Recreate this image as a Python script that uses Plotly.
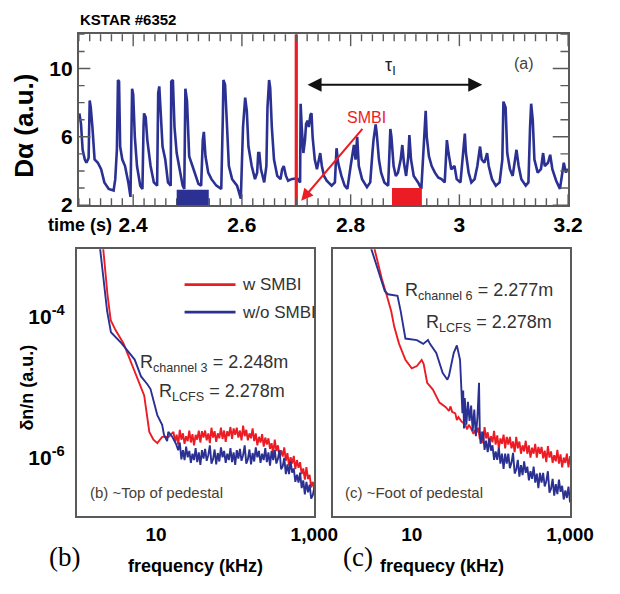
import numpy as np
import plotly.graph_objects as go

# ---------------------------------------------------------------- data
# (a) D-alpha emission, KSTAR shot 6352
t_da = [
    2.301, 2.304, 2.307, 2.311, 2.314, 2.318, 2.320, 2.322, 2.325, 2.329, 2.335, 2.341, 2.347, 2.355,
    2.364, 2.367, 2.370, 2.372, 2.374, 2.376, 2.380, 2.385, 2.391, 2.395, 2.398, 2.400, 2.403, 2.407,
    2.413, 2.417, 2.419, 2.420, 2.423, 2.426, 2.432, 2.438, 2.444, 2.446, 2.448, 2.451, 2.454, 2.459,
    2.464, 2.469, 2.470, 2.473, 2.476, 2.480, 2.485, 2.491, 2.494, 2.496, 2.499, 2.503, 2.509, 2.515,
    2.520, 2.525, 2.528, 2.530, 2.533, 2.538, 2.544, 2.553, 2.562, 2.565, 2.566, 2.569, 2.572, 2.576,
    2.582, 2.591, 2.598, 2.602, 2.606, 2.609, 2.612, 2.618, 2.624, 2.628, 2.630, 2.632, 2.635, 2.641,
    2.645, 2.647, 2.650, 2.652, 2.655, 2.659, 2.665, 2.671, 2.674, 2.677, 2.681, 2.685, 2.691, 2.697,
    2.700, 2.703, 2.707, 2.708, 2.710, 2.713, 2.716, 2.718, 2.721, 2.723, 2.726, 2.728, 2.730, 2.734,
    2.738, 2.742, 2.744, 2.747, 2.751, 2.756, 2.765, 2.771, 2.774, 2.777, 2.783, 2.789, 2.794, 2.800,
    2.803, 2.806, 2.809, 2.812, 2.815, 2.821, 2.830, 2.836, 2.840, 2.842, 2.846, 2.848, 2.852, 2.856,
    2.862, 2.869, 2.873, 2.875, 2.879, 2.883, 2.887, 2.892, 2.895, 2.898, 2.902, 2.906, 2.908, 2.911,
    2.916, 2.924, 2.930, 2.936, 2.938, 2.940, 2.944, 2.949, 2.955, 2.961, 2.967, 2.973, 2.977, 2.980,
    2.985, 2.991, 2.995, 3.002, 3.007, 3.010, 3.012, 3.017, 3.022, 3.028, 3.033, 3.038, 3.041, 3.046,
    3.051, 3.054, 3.060, 3.067, 3.074, 3.079, 3.081, 3.085, 3.088, 3.093, 3.098, 3.103, 3.105, 3.109,
    3.114, 3.122, 3.127, 3.130, 3.132, 3.135, 3.138, 3.144, 3.150, 3.154, 3.157, 3.163, 3.167, 3.171,
    3.178, 3.185, 3.189, 3.192, 3.196, 3.198, 3.200,
]
d_alpha = [
    7.37, 6.76, 5.24, 4.67, 4.48, 4.76, 8.13, 7.71, 6.57, 4.67, 4.48, 4.10, 3.33, 2.95,
    2.86, 3.52, 5.24, 9.33, 9.24, 5.43, 4.67, 4.29, 3.33, 2.48, 8.82, 8.48, 6.00, 4.29,
    3.14, 2.95, 6.57, 7.37, 7.14, 5.81, 4.29, 3.33, 3.14, 8.57, 8.95, 7.33, 5.43, 4.67,
    3.33, 3.14, 9.24, 9.33, 6.57, 5.05, 4.10, 3.14, 2.95, 8.82, 8.10, 4.86, 4.29, 3.71,
    3.24, 3.14, 5.81, 6.29, 4.86, 3.90, 3.52, 3.14, 2.95, 7.33, 9.33, 9.05, 6.57, 4.29,
    3.52, 3.14, 2.38, 6.57, 8.29, 7.52, 5.43, 4.29, 3.52, 3.90, 5.05, 5.05, 4.10, 3.33,
    4.29, 7.71, 9.33, 8.86, 6.57, 4.67, 3.71, 3.52, 4.10, 4.29, 3.71, 3.43, 3.52, 3.56,
    3.52, 3.52, 3.33, 7.94, 6.57, 5.05, 5.81, 6.76, 6.95, 6.57, 7.29, 7.37, 6.00, 4.67,
    4.10, 4.67, 5.05, 4.29, 3.71, 3.43, 3.14, 3.33, 5.33, 4.48, 3.71, 3.14, 2.95, 4.29,
    5.05, 5.52, 4.67, 6.00, 4.29, 3.52, 3.05, 3.33, 5.05, 5.81, 6.72, 6.19, 4.67, 3.90,
    3.33, 3.14, 6.46, 6.00, 4.29, 3.71, 3.90, 4.67, 5.52, 4.48, 3.71, 4.86, 6.10, 4.67,
    3.71, 3.33, 2.95, 6.19, 7.52, 6.00, 4.86, 4.29, 3.90, 3.62, 3.52, 3.33, 5.81, 5.05,
    4.10, 4.29, 3.52, 3.33, 5.05, 6.19, 5.05, 3.90, 3.33, 3.52, 4.29, 5.43, 4.67, 4.48,
    5.05, 4.29, 3.52, 3.14, 3.33, 4.67, 8.06, 7.71, 5.05, 4.10, 3.71, 4.86, 5.24, 4.29,
    3.52, 3.14, 3.33, 6.57, 7.94, 6.95, 4.67, 3.90, 4.10, 5.05, 4.29, 4.48, 4.95, 4.10,
    3.43, 2.95, 3.71, 4.48, 3.90, 4.10, 4.00,
]
smbi_time = 2.70                 # start of supersonic molecular beam injection
window_wo_smbi = [2.480, 2.539]  # time window of the w/o SMBI spectrum
window_w_smbi = [2.876, 2.931]   # time window of the w SMBI spectrum
window_top = [2.9, 3.0]          # bar heights of the two windows (a.u.)
tau_span = [2.718, 3.042]        # tau_I interval
time_range = [2.3, 3.2]
da_range = [2, 12]
time_ticks = [2.4, 2.6, 2.8, 3.0, 3.2]
time_labels = ["2.4", "2.6", "2.8", "3", "3.2"]
da_ticks = [2, 6, 10]
spec_ticks_log = [-4, -6]        # decades marked on the fluctuation axes

# (b) channel 3, ~top of pedestal: log10 f[kHz], log10 dn/n
b_red_lf = [0.31, 0.386, 0.427, 0.488, 0.589, 0.69, 0.79, 0.85, 0.915, 0.967, 1.016, 1.077, 1.16, 1.20,
            1.22, 1.24, 1.26, 1.28, 1.30, 1.32, 1.34, 1.36, 1.38, 1.40, 1.42, 1.44, 1.46, 1.48, 1.50,
            1.52, 1.54, 1.56, 1.58, 1.60, 1.62, 1.64, 1.66, 1.68, 1.70, 1.72, 1.74, 1.76, 1.78, 1.80,
            1.82, 1.84, 1.86, 1.88, 1.90, 1.92, 1.94, 1.96, 1.98, 2.00, 2.02, 2.04, 2.06, 2.08, 2.10,
            2.12, 2.14, 2.16, 2.18, 2.20, 2.22, 2.24, 2.26, 2.28, 2.30, 2.32, 2.34, 2.36, 2.38, 2.40,
            2.42, 2.44, 2.46, 2.48, 2.50, 2.52, 2.54, 2.56, 2.58, 2.60, 2.62, 2.64, 2.66, 2.68, 2.70,
            2.72, 2.74, 2.76, 2.78, 2.80, 2.82, 2.84, 2.86, 2.88, 2.90, 2.92, 2.94, 2.96, 2.98, 3.00]
b_red_lv = [-2.76, -3.68, -4.05, -4.19, -4.38, -4.66, -4.94, -5.12, -5.64, -5.75, -5.80, -5.71, -5.71, -5.66,
            -5.64, -5.78, -5.68, -5.82, -5.61, -5.75, -5.66, -5.81, -5.70, -5.77, -5.62, -5.79, -5.67, -5.83, -5.68,
            -5.75, -5.62, -5.79, -5.63, -5.72, -5.62, -5.76, -5.66, -5.80, -5.58, -5.72, -5.63, -5.78, -5.66, -5.73,
            -5.58, -5.74, -5.62, -5.78, -5.63, -5.70, -5.57, -5.74, -5.59, -5.68, -5.58, -5.72, -5.62, -5.76, -5.55,
            -5.70, -5.61, -5.76, -5.66, -5.73, -5.59, -5.77, -5.66, -5.83, -5.71, -5.79, -5.67, -5.85, -5.72, -5.82,
            -5.73, -5.88, -5.80, -5.95, -5.75, -5.91, -5.83, -6.00, -5.90, -5.99, -5.86, -6.05, -5.94, -6.12, -6.00,
            -6.09, -5.98, -6.17, -6.04, -6.15, -6.07, -6.24, -6.16, -6.32, -6.14, -6.31, -6.25, -6.43, -6.35, -6.45]
b_blue_lf = [0.27, 0.341, 0.382, 0.43, 0.565, 0.73, 0.81, 0.89, 0.93, 1.016, 1.077, 1.10, 1.14, 1.155, 1.20,
             1.256, 1.28, 1.30, 1.32, 1.34, 1.36, 1.38, 1.40, 1.42, 1.44, 1.46, 1.48, 1.50, 1.52, 1.54,
             1.56, 1.58, 1.60, 1.62, 1.64, 1.66, 1.68, 1.70, 1.72, 1.74, 1.76, 1.78, 1.80, 1.82, 1.84,
             1.86, 1.88, 1.90, 1.92, 1.94, 1.96, 1.98, 2.00, 2.02, 2.04, 2.06, 2.08, 2.10, 2.12, 2.14,
             2.16, 2.18, 2.20, 2.22, 2.24, 2.26, 2.28, 2.30, 2.32, 2.34, 2.36, 2.38, 2.40, 2.42, 2.44,
             2.46, 2.48, 2.50, 2.52, 2.54, 2.56, 2.58, 2.60, 2.62, 2.64, 2.66, 2.68, 2.70, 2.72, 2.74,
             2.76, 2.78, 2.80, 2.82, 2.84, 2.86, 2.88, 2.90, 2.92, 2.94, 2.96, 2.98, 3.00]
b_blue_lv = [-2.80, -3.54, -3.92, -4.22, -4.38, -4.61, -4.85, -4.96, -5.03, -5.40, -5.54, -5.68, -5.77, -5.64, -5.70,
             -5.82, -5.90, -5.79, -6.03, -5.90, -6.04, -5.85, -6.00, -5.91, -6.08, -5.95, -6.04, -5.87, -6.07, -5.93,
             -6.11, -5.90, -6.02, -5.88, -6.05, -5.97, -5.83, -6.09, -6.03, -5.89, -6.10, -5.94, -6.06, -5.86, -6.00,
             -5.91, -6.08, -5.95, -6.04, -5.87, -6.07, -5.93, -6.11, -5.90, -6.02, -5.88, -6.05, -5.97, -5.83, -6.09,
             -6.03, -5.89, -6.10, -5.94, -6.06, -5.86, -6.00, -5.91, -6.08, -5.95, -6.04, -5.87, -6.07, -5.93, -6.12,
             -5.91, -6.04, -5.90, -6.09, -6.02, -5.90, -6.17, -6.13, -6.01, -6.24, -6.10, -6.24, -6.06, -6.22, -6.16,
             -6.35, -6.25, -6.36, -6.22, -6.44, -6.33, -6.53, -6.35, -6.50, -6.39, -6.59, -6.54, -6.43]

# (c) channel 6, ~foot of pedestal
c_red_lf = [0.50, 0.62, 0.68, 0.74, 0.78, 0.84, 0.92, 1.00, 1.065, 1.125, 1.15, 1.195, 1.267, 1.35, 1.43,
            1.47, 1.49, 1.51, 1.55, 1.57, 1.59, 1.63, 1.67, 1.70, 1.72, 1.75, 1.78, 1.80, 1.82,
            1.84, 1.86, 1.88, 1.90, 1.92, 1.94, 1.96, 1.98, 2.00, 2.02, 2.04, 2.06, 2.08, 2.10, 2.12,
            2.14, 2.16, 2.18, 2.20, 2.22, 2.24, 2.26, 2.28, 2.30, 2.32, 2.34, 2.36, 2.38, 2.40, 2.42,
            2.44, 2.46, 2.48, 2.50, 2.52, 2.54, 2.56, 2.58, 2.60, 2.62, 2.64, 2.66, 2.68, 2.70, 2.72,
            2.74, 2.76, 2.78, 2.80, 2.82, 2.84, 2.86, 2.88, 2.90, 2.92, 2.94, 2.96, 2.98, 3.00]
c_red_lv = [-2.87, -3.38, -3.59, -3.81, -4.02, -4.24, -4.45, -4.56, -4.53, -4.45, -4.50, -4.75, -4.84, -5.01, -5.07,
            -5.12, -5.06, -5.13, -5.15, -5.24, -5.20, -5.26, -5.29, -5.36, -5.30, -5.35, -5.42, -5.37, -5.40,
            -5.34, -5.49, -5.39, -5.54, -5.33, -5.48, -5.40, -5.55, -5.45, -5.53, -5.38, -5.56, -5.44, -5.61, -5.48,
            -5.55, -5.43, -5.61, -5.46, -5.56, -5.46, -5.61, -5.52, -5.66, -5.46, -5.61, -5.52, -5.68, -5.57, -5.65,
            -5.51, -5.68, -5.57, -5.73, -5.60, -5.68, -5.55, -5.73, -5.59, -5.68, -5.59, -5.74, -5.64, -5.79, -5.58,
            -5.73, -5.65, -5.80, -5.70, -5.78, -5.63, -5.81, -5.69, -5.86, -5.73, -5.80, -5.68, -5.86, -5.71]
c_blue_lf = [0.45, 0.58, 0.66, 0.70, 0.82, 0.86, 0.92, 1.065, 1.145, 1.205, 1.23, 1.31, 1.39, 1.45, 1.47,
             1.49, 1.53, 1.57, 1.61, 1.63, 1.64, 1.65, 1.66, 1.67, 1.69, 1.71, 1.73, 1.75, 1.77, 1.79,
             1.81, 1.83, 1.85, 1.86, 1.87,
             1.88, 1.90, 1.92, 1.94, 1.96, 1.98, 2.00, 2.02, 2.04, 2.06, 2.08, 2.10, 2.12, 2.14, 2.16,
             2.18, 2.20, 2.22, 2.24, 2.26, 2.28, 2.30, 2.32, 2.34, 2.36, 2.38, 2.40, 2.42, 2.44, 2.46,
             2.48, 2.50, 2.52, 2.54, 2.56, 2.58, 2.60, 2.62, 2.64, 2.66, 2.68, 2.70, 2.72, 2.74, 2.76,
             2.78, 2.80, 2.82, 2.84, 2.86, 2.88, 2.90, 2.92, 2.94, 2.96, 2.98, 3.00]
c_blue_lv = [-2.87, -3.29, -3.55, -3.59, -3.61, -3.81, -4.17, -4.19, -4.24, -4.19, -4.24, -4.36, -4.62, -4.71, -4.66,
             -4.56, -4.36, -4.26, -4.45, -4.90, -5.15, -4.85, -5.35, -4.95, -5.30, -5.00, -5.25, -5.05, -5.38, -5.10,
             -5.45, -5.20, -4.75, -5.40, -5.55,
             -5.50, -5.39, -5.63, -5.51, -5.66, -5.48, -5.64, -5.57, -5.76, -5.65, -5.76, -5.60, -5.81, -5.68, -5.88,
             -5.68, -5.81, -5.68, -5.87, -5.80, -5.67, -5.94, -5.89, -5.76, -5.98, -5.83, -5.96, -5.78, -5.93, -5.85,
             -6.03, -5.91, -6.01, -5.85, -6.06, -5.94, -6.13, -5.93, -6.06, -5.93, -6.11, -6.04, -5.91, -6.19, -6.14,
             -6.01, -6.23, -6.08, -6.21, -6.02, -6.18, -6.10, -6.28, -6.16, -6.26, -6.11, -6.32]

# ---------------------------------------------------------------- style
W, H = 620, 594
SANS = "Liberation Sans, Arial, Helvetica, sans-serif"
SERIF = "Liberation Serif, Times New Roman, serif"
BLUE = "#2b3192"
RED = "#ec1c24"
FRAME = "#5a5a5a"
BROWN = "#4a3c30"

# minor tick positions of panel (a), between the labelled ticks
time_minor = [round(2.30 + 0.02 * i, 2) for i in range(46)]
time_minor = [t for t in time_minor if t not in time_ticks]
da_minor = [v for v in range(3, 12) if v not in da_ticks]

# panel boxes in pixels (left, right, top, bottom)
A_BOX = (82, 591, 35, 209)
B_BOX = (80, 327, 254, 526)
C_BOX = (346, 593, 254, 526)


def px(x):
    return x / W


def py(y):
    return 1 - y / H


def bold(labels):
    return ["<b>%s</b>" % s for s in labels]


fig = go.Figure()

# (a) D-alpha trace
fig.add_trace(go.Scatter(x=t_da, y=d_alpha, mode="lines",
                         line=dict(color=BLUE, width=2.6), xaxis="x", yaxis="y",
                         hoverinfo="skip"))

# SMBI start
fig.add_trace(go.Scatter(x=[smbi_time, smbi_time], y=da_range, mode="lines",
                         line=dict(color=RED, width=3.2), xaxis="x", yaxis="y",
                         hoverinfo="skip"))

# (b) and (c) spectra: red (w SMBI) first, blue (w/o SMBI) on top
for lf, lv, col, xa, ya in [
    (b_red_lf, b_red_lv, RED, "x2", "y2"),
    (b_blue_lf, b_blue_lv, BLUE, "x2", "y2"),
    (c_red_lf, c_red_lv, RED, "x3", "y3"),
    (c_blue_lf, c_blue_lv, BLUE, "x3", "y3"),
]:
    fig.add_trace(go.Scatter(x=10 ** np.array(lf), y=10 ** np.array(lv), mode="lines",
                             line=dict(color=col, width=1.9), xaxis=xa, yaxis=ya,
                             hoverinfo="skip"))

frame = dict(showline=True, linecolor=FRAME, linewidth=2, showgrid=False, zeroline=False,
             ticks="")
tickfont_a = dict(family=SANS, size=21, color="black")

fig.update_layout(
    width=W, height=H, margin=dict(l=0, r=0, t=0, b=0),
    paper_bgcolor="white", plot_bgcolor="white", showlegend=False,
    xaxis=dict(**frame, domain=[px(A_BOX[0]), px(A_BOX[1])], range=time_range, anchor="y",
               mirror=True, tickvals=time_ticks, ticktext=bold(time_labels), tickfont=tickfont_a),
    yaxis=dict(**frame, domain=[py(A_BOX[3]), py(A_BOX[2])], range=da_range, anchor="x",
               mirror=True, tickvals=da_ticks, ticktext=bold([str(v) for v in da_ticks]),
               tickfont=tickfont_a),
    xaxis2=dict(**frame, domain=[px(B_BOX[0]), px(B_BOX[1])], type="log", range=[0, 3],
                anchor="y2", mirror=True, tickvals=[10, 1000], ticktext=bold(["10", "1,000"]),
                tickfont=dict(family=SANS, size=19, color="black")),
    yaxis2=dict(**frame, domain=[py(B_BOX[3]), py(B_BOX[2])], type="log", range=[-6.84, -3.04],
                anchor="x2", mirror=True, tickvals=[1e-4, 1e-6],
                ticktext=["<b>10<sup>-4</sup></b>", "<b>10<sup>-6</sup></b>"],
                tickfont=dict(family=SANS, size=21, color="black"), ticklabelstandoff=6),
    xaxis3=dict(**frame, domain=[px(C_BOX[0]), px(C_BOX[1])], type="log", range=[0, 3],
                anchor="y3", mirror=True, tickvals=[10, 1000], ticktext=bold(["10", "1,000"]),
                tickfont=dict(family=SANS, size=19, color="black")),
    yaxis3=dict(**frame, domain=[py(C_BOX[3]), py(C_BOX[2])], type="log", range=[-6.5, -3.0],
                anchor="x3", mirror=True, showticklabels=False),
)

shapes = []


def xtick(axis, value, length_px, box, top=False):
    """Inward tick on the bottom (or top) edge of a panel, positioned in data units."""
    frac = length_px / (box[3] - box[2])
    y0, y1 = (1 - frac, 1) if top else (0, frac)
    shapes.append(dict(type="line", xref=axis, yref="y domain" if axis == "x" else axis,
                       x0=value, x1=value, y0=y0, y1=y1,
                       line=dict(color=FRAME, width=1.4), layer="above"))


def ytick(xdom, yaxis, value, length_px, box, right=False, outside=False):
    """Tick on the left (or right) edge of a panel, positioned in data units."""
    frac = length_px / (box[1] - box[0])
    if right:
        x0, x1 = 1 - frac, 1
    elif outside:
        x0, x1 = -frac, 0
    else:
        x0, x1 = 0, frac
    shapes.append(dict(type="line", xref=xdom, yref=yaxis, x0=x0, x1=x1, y0=value, y1=value,
                       line=dict(color=FRAME, width=1.4), layer="above"))


# panel (a): ticks on all four sides
for t in time_minor:
    xtick("x", t, 7, A_BOX)
    xtick("x", t, 7, A_BOX, top=True)
for t in time_ticks:
    xtick("x", t, 11, A_BOX)
    xtick("x", t, 12, A_BOX, top=True)
for v in da_minor + [12]:
    ytick("x domain", "y", v, 6, A_BOX)
    ytick("x domain", "y", v, 8, A_BOX, right=True)
for v in da_ticks:
    ytick("x domain", "y", v, 12, A_BOX)
    ytick("x domain", "y", v, 16, A_BOX, right=True)

# panels (b) and (c): decade ticks (log axes take exponents)
for v in spec_ticks_log:
    ytick("x2 domain", "y2", v, 6, B_BOX, outside=True)
    ytick("x2 domain", "y2", v, 6, B_BOX, right=True)
    ytick("x3 domain", "y3", v, 6, C_BOX)
    ytick("x3 domain", "y3", v, 6, C_BOX, right=True)

# the two spectrum time windows
shapes.append(dict(type="rect", xref="x", yref="y", x0=window_wo_smbi[0], x1=window_wo_smbi[1],
                   y0=da_range[0], y1=window_top[0], fillcolor=BLUE, line=dict(width=0),
                   layer="above"))
shapes.append(dict(type="rect", xref="x", yref="y", x0=window_w_smbi[0], x1=window_w_smbi[1],
                   y0=da_range[0], y1=window_top[1], fillcolor=RED, line=dict(width=0),
                   layer="above"))

# legend of panel (b)
for yy, col in [(290, RED), (318, BLUE)]:
    shapes.append(dict(type="line", xref="paper", yref="paper", x0=px(192), x1=px(245),
                       y0=py(yy), y1=py(yy), line=dict(color=col, width=2.6)))

ann = []


def text(x, y, s, size, family=SANS, color="black", xanchor="center", angle=0):
    ann.append(dict(x=px(x), y=py(y), xref="paper", yref="paper", text=s, showarrow=False,
                    xanchor=xanchor, yanchor="middle", textangle=angle,
                    font=dict(family=family, size=size, color=color)))


text(81, 20, "<b>KSTAR #6352</b>", 15, xanchor="left")
text(25, 128, "<b>Dα (a.u.)</b>", 26, angle=-90)
text(48, 229, "<b>time (s)</b>", 18, xanchor="left")
text(545, 65, "(a)", 16, color="#4a4038")
text(28, 395, "<b>δn/n (a.u.)</b>", 18, angle=-90)
text(250, 290, "w SMBI", 17, color="#333333", xanchor="left")
text(250, 318, "w/o SMBI", 17, color="#333333", xanchor="left")
text(302, 370, "R<sub>channel 3</sub> = 2.248m", 18, color="#333333", xanchor="right")
text(299, 400, "R<sub>LCFS</sub> = 2.278m", 18, color="#333333", xanchor="right")
text(577, 297, "R<sub>channel 6</sub> = 2.277m", 18, color="#333333", xanchor="right")
text(576, 330, "R<sub>LCFS</sub> = 2.278m", 18, color="#333333", xanchor="right")
text(92, 502, "(b) ~Top of pedestal", 15, color=BROWN, xanchor="left")
text(357, 502, "(c) ~Foot of pedestal", 15, color=BROWN, xanchor="left")
text(67, 567, "(b)", 27, SERIF)
text(372, 567, "(c)", 27, SERIF)
text(203, 577, "<b>frequency (kHz)</b>", 18)
text(460, 577, "<b>frequecy (kHz)</b>", 18)

# tau_I interval and SMBI pointer in data coordinates of (a)
ann.append(dict(x=tau_span[1], y=9.05, ax=tau_span[0], ay=9.05, xref="x", yref="y",
                axref="x", ayref="y", text="", showarrow=True, arrowhead=2, arrowside="end+start",
                arrowsize=1.4, arrowwidth=2, arrowcolor="#111111"))
ann.append(dict(x=2.874, y=10.1, xref="x", yref="y", text="τ<sub>I</sub>", showarrow=False,
                font=dict(family=SANS, size=18, color="#222222")))
ann.append(dict(x=2.830, y=7.14, xref="x", yref="y", text="SMBI", showarrow=False,
                font=dict(family=SANS, size=16, color=RED)))
ann.append(dict(x=2.709, y=2.25, ax=2.824, ay=6.55, xref="x", yref="y", axref="x", ayref="y",
                text="", showarrow=True, arrowhead=2, arrowsize=1.2, arrowwidth=2,
                arrowcolor=RED))

fig.update_layout(shapes=shapes, annotations=ann)
fig.write_html("out.html")
